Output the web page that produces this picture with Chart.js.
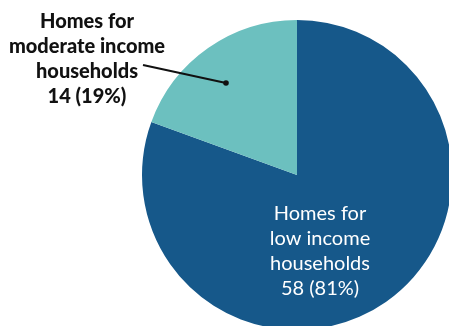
<!DOCTYPE html>
<html>
<head>
<meta charset="utf-8">
<script src="https://cdn.jsdelivr.net/npm/chart.js@4/dist/chart.umd.min.js"></script>
<style>
  html, body { margin: 0; padding: 0; background: #fff; }
  #wrap { position: relative; width: 449px; height: 326px; overflow: hidden; }
  #box { position: absolute; left: 0; top: 0; width: 460px; height: 340px; }
</style>
</head>
<body>
<div id="wrap"><div id="box"><canvas id="pie-chart"></canvas></div></div>
<script>
// values
const categories = ['Homes for low income households', 'Homes for moderate income households'];
const counts = [58, 14];
const shares = ['81%', '19%'];
const colors = ['#16588a', '#6cc0bf'];

// labels drawn on top of the pie
const sliceLabels = {
    id: 'sliceLabels',
    afterDraw(chart) {
        const ctx = chart.ctx;
        ctx.save();
        ctx.textAlign = 'center';
        ctx.textBaseline = 'middle';

        // low income label, inside the big slice
        ctx.fillStyle = '#ffffff';
        ctx.font = '20px Lato';
        const low = ['Homes for', 'low income', 'households', counts[0] + ' (' + shares[0] + ')'];
        low.forEach((t, i) => ctx.fillText(t, 320, 214 + i * 24.7));

        // moderate income label, outside on the left
        ctx.fillStyle = '#111111';
        ctx.font = '900 20px Lato';
        const mod = ['Homes for', 'moderate income', 'households', counts[1] + ' (' + shares[1] + ')'];
        mod.forEach((t, i) => ctx.fillText(t, 87, 22 + i * 25));

        // pointer line with a dot
        ctx.strokeStyle = '#111111';
        ctx.lineWidth = 2.2;
        ctx.beginPath();
        ctx.moveTo(143, 65);
        ctx.lineTo(226, 83);
        ctx.stroke();
        ctx.fillStyle = '#111111';
        ctx.beginPath();
        ctx.arc(226, 83, 2.8, 0, Math.PI * 2);
        ctx.fill();
        ctx.restore();
    }
};

const ctx = document.getElementById('pie-chart').getContext('2d');
new Chart(ctx, {
    type: 'pie',
    data: {
        labels: categories,
        datasets: [{
            data: counts,
            backgroundColor: colors,
            borderWidth: 0
        }]
    },
    options: {
        responsive: true,
        maintainAspectRatio: false,
        animation: false,
        layout: {
            padding: { left: 142, right: 8, top: 20, bottom: 10 }
        },
        plugins: {
            legend: { display: false },
            tooltip: { enabled: false }
        }
    },
    plugins: [sliceLabels]
});
</script>
</body>
</html>
